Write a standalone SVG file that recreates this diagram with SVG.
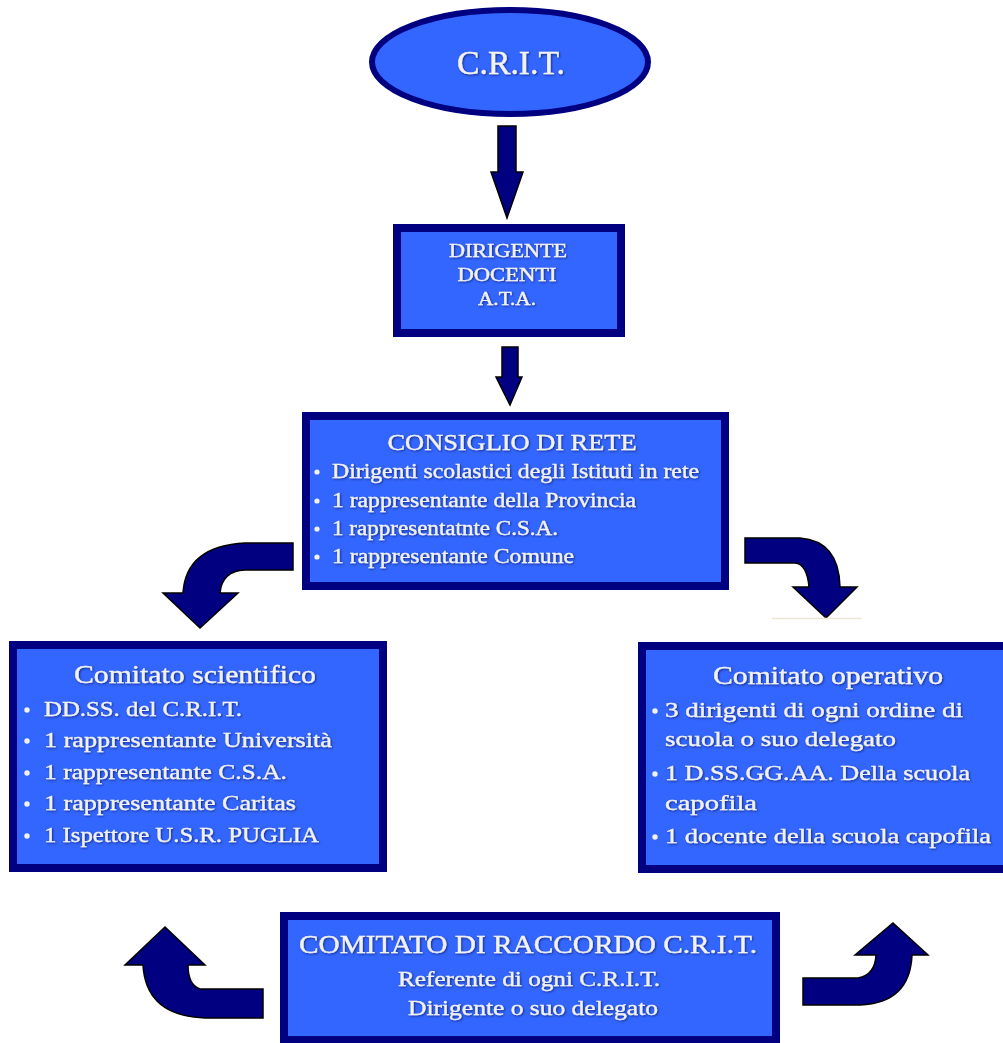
<svg xmlns="http://www.w3.org/2000/svg" width="1003" height="1043" viewBox="0 0 1003 1043">
<style>
.box{fill:#3366ff;stroke:#000080;stroke-width:8}
.arr{fill:#000080;stroke:#000000;stroke-width:1.5;stroke-linejoin:miter}
.t{font-family:"Liberation Serif","DejaVu Serif",serif;fill:#f2f2f2;stroke:#f2f2f2;stroke-width:0.35;filter:url(#sh)}
.c{text-anchor:middle}
.bul{fill:#f2f2f2}
</style>
<defs>
<filter id="sh" x="-5%" y="-30%" width="110%" height="160%">
<feDropShadow dx="1" dy="1" stdDeviation="0.8" flood-color="#000030" flood-opacity="0.6"/>
</filter>
</defs>
<rect width="1003" height="1043" fill="#ffffff"/>

<g id="connectors">
<path class="arr" d="M498 126 L516 126 L516 172 L523 172 L507 218 L491 172 L498 172 Z"/>
<path class="arr" d="M502 347 L518 347 L518 377 L522 377 L510 405 L496 377 L502 377 Z"/>
<path class="arr" d="M293 543 L245 543 Q186 546 183 593 L163 593 L200 628 L238 593 L220 593 Q222 571 245 570 L293 570 Z"/>
<path class="arr" d="M745 538 L800 538 Q839 541 840 587 L857 587 L826 618 L793 587 L809 587 Q807 564 795 563 L745 563 Z"/>
<line x1="772" y1="618.5" x2="862" y2="618.5" stroke="#ece6d6" stroke-width="1.5"/>
<path class="arr" d="M263 989 L200 989 Q188 985 188 965 L205 965 L165 927 L125 965 L143 965 Q146 1016 205 1018 L263 1018 Z"/>
<path class="arr" d="M803 978 L858 978 Q875 975 876 955 L855 955 L893 923 L928 955 L912 955 Q910 1003 860 1005 L803 1005 Z"/>
</g>

<g id="crit">
<ellipse cx="510" cy="62" rx="138" ry="52" fill="#3366ff" stroke="#000080" stroke-width="6"/>
<text class="t c" x="511" y="74" font-size="33" textLength="108" lengthAdjust="spacingAndGlyphs">C.R.I.T.</text>
</g>

<g id="dirigente">
<rect class="box" x="397" y="228" width="224" height="105"/>
<text class="t c" x="508" y="257" font-size="18" textLength="118" lengthAdjust="spacingAndGlyphs">DIRIGENTE</text>
<text class="t c" x="507" y="281" font-size="18" textLength="99" lengthAdjust="spacingAndGlyphs">DOCENTI</text>
<text class="t c" x="507" y="305" font-size="18" textLength="58" lengthAdjust="spacingAndGlyphs">A.T.A.</text>
</g>

<g id="consiglio">
<rect class="box" x="306" y="416" width="419" height="170"/>
<text class="t c" x="512" y="450" font-size="23" textLength="249" lengthAdjust="spacingAndGlyphs">CONSIGLIO DI RETE</text>
<circle class="bul" cx="317" cy="472" r="2.6"/>
<circle class="bul" cx="317" cy="501" r="2.6"/>
<circle class="bul" cx="317" cy="529" r="2.6"/>
<circle class="bul" cx="317" cy="557" r="2.6"/>
<text class="t" x="332" y="478" font-size="20" textLength="367" lengthAdjust="spacingAndGlyphs">Dirigenti scolastici degli Istituti in rete</text>
<text class="t" x="332" y="507" font-size="20" textLength="304" lengthAdjust="spacingAndGlyphs">1 rappresentante della Provincia</text>
<text class="t" x="332" y="535" font-size="20" textLength="226" lengthAdjust="spacingAndGlyphs">1 rappresentatnte C.S.A.</text>
<text class="t" x="332" y="563" font-size="20" textLength="242" lengthAdjust="spacingAndGlyphs">1 rappresentante Comune</text>
</g>

<g id="scientifico">
<rect class="box" x="13" y="645" width="370" height="223"/>
<text class="t c" x="195" y="683" font-size="25" textLength="242" lengthAdjust="spacingAndGlyphs">Comitato scientifico</text>
<circle class="bul" cx="27" cy="710" r="2.7"/>
<circle class="bul" cx="27" cy="741" r="2.7"/>
<circle class="bul" cx="27" cy="773" r="2.7"/>
<circle class="bul" cx="27" cy="804" r="2.7"/>
<circle class="bul" cx="27" cy="836" r="2.7"/>
<text class="t" x="44" y="716" font-size="21" textLength="198" lengthAdjust="spacingAndGlyphs">DD.SS. del C.R.I.T.</text>
<text class="t" x="44" y="747" font-size="21" textLength="288" lengthAdjust="spacingAndGlyphs">1 rappresentante Università</text>
<text class="t" x="44" y="779" font-size="21" textLength="243" lengthAdjust="spacingAndGlyphs">1 rappresentante C.S.A.</text>
<text class="t" x="44" y="810" font-size="21" textLength="252" lengthAdjust="spacingAndGlyphs">1 rappresentante Caritas</text>
<text class="t" x="44" y="842" font-size="21" textLength="275" lengthAdjust="spacingAndGlyphs">1 Ispettore U.S.R. PUGLIA</text>
</g>

<g id="operativo">
<rect class="box" x="642" y="646" width="372" height="223"/>
<text class="t c" x="828" y="684" font-size="25" textLength="230" lengthAdjust="spacingAndGlyphs">Comitato operativo</text>
<circle class="bul" cx="655" cy="711" r="2.7"/>
<circle class="bul" cx="655" cy="774" r="2.7"/>
<circle class="bul" cx="655" cy="837" r="2.7"/>
<text class="t" x="665" y="717" font-size="21" textLength="298" lengthAdjust="spacingAndGlyphs">3 dirigenti di ogni ordine di</text>
<text class="t" x="665" y="746" font-size="21" textLength="231" lengthAdjust="spacingAndGlyphs">scuola o suo delegato</text>
<text class="t" x="665" y="780" font-size="21" textLength="305" lengthAdjust="spacingAndGlyphs">1 D.SS.GG.AA. Della scuola</text>
<text class="t" x="665" y="810" font-size="21" textLength="92" lengthAdjust="spacingAndGlyphs">capofila</text>
<text class="t" x="665" y="843" font-size="21" textLength="326" lengthAdjust="spacingAndGlyphs">1 docente della scuola capofila</text>
</g>

<g id="raccordo">
<rect class="box" x="284" y="916" width="492" height="124"/>
<text class="t c" x="528" y="953" font-size="26" textLength="458" lengthAdjust="spacingAndGlyphs">COMITATO DI RACCORDO C.R.I.T.</text>
<text class="t c" x="529" y="986" font-size="22" textLength="262" lengthAdjust="spacingAndGlyphs">Referente di ogni C.R.I.T.</text>
<text class="t c" x="533" y="1015" font-size="22" textLength="250" lengthAdjust="spacingAndGlyphs">Dirigente o suo delegato</text>
</g>
</svg>
